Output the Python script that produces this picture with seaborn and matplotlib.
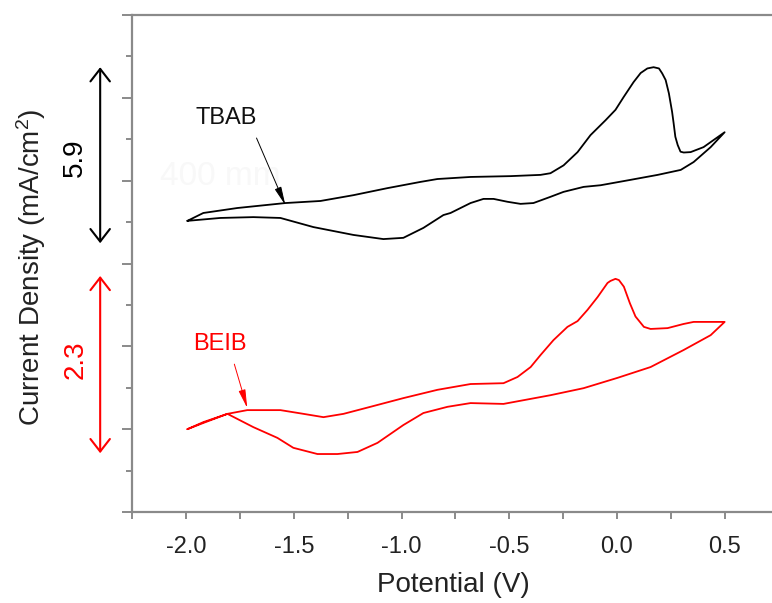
import numpy as np
import pandas as pd
import seaborn as sns
import matplotlib.pyplot as plt
from matplotlib.ticker import MultipleLocator, NullFormatter

# ─── CV data (potential V, stacked current, arb.) ───
tbab_e = [-1.995, -1.921, -1.763, -1.540, -1.377, -1.224, -1.066, -0.913, -0.834,
          -0.680, -0.494, -0.355, -0.309, -0.248, -0.183, -0.123, -0.053, -0.007,
          0.031, 0.077, 0.110, 0.141, 0.170, 0.195, 0.210, 0.226, 0.241, 0.256,
          0.263, 0.271, 0.282, 0.295, 0.310, 0.342, 0.402, 0.500,
          0.435, 0.356, 0.296, 0.189, 0.063, -0.076, -0.155, -0.248, -0.309,
          -0.388, -0.448, -0.508, -0.573, -0.620, -0.680, -0.773, -0.806, -0.899,
          -0.992, -1.085, -1.224, -1.410, -1.563, -1.689, -1.842, -1.995]
tbab_j = [7.03, 7.22, 7.34, 7.46, 7.51, 7.65, 7.82, 7.97, 8.04,
          8.09, 8.11, 8.14, 8.18, 8.37, 8.69, 9.10, 9.46, 9.71,
          10.02, 10.38, 10.60, 10.71, 10.74, 10.71, 10.59, 10.43, 10.11, 9.66,
          9.39, 9.06, 8.86, 8.70, 8.68, 8.69, 8.81, 9.17,
          8.81, 8.45, 8.26, 8.14, 8.02, 7.89, 7.85, 7.73, 7.61,
          7.46, 7.44, 7.49, 7.56, 7.56, 7.46, 7.22, 7.17, 6.86,
          6.62, 6.59, 6.69, 6.88, 7.10, 7.12, 7.10, 7.03]

beib_e = [-1.995, -1.921, -1.809, -1.717, -1.563, -1.456, -1.363, -1.270, -1.145,
          -0.992, -0.834, -0.680, -0.527, -0.462, -0.401, -0.355, -0.295, -0.230,
          -0.183, -0.137, -0.090, -0.044, -0.030, -0.007, 0.009, 0.032, 0.060,
          0.086, 0.125, 0.156, 0.235, 0.309, 0.356, 0.500,
          0.435, 0.309, 0.156, 0.003, -0.155, -0.309, -0.527, -0.680, -0.787,
          -0.899, -0.992, -1.112, -1.205, -1.298, -1.391, -1.503, -1.577, -1.689,
          -1.809, -1.921, -1.995]
beib_j = [2.00, 2.17, 2.37, 2.46, 2.46, 2.37, 2.29, 2.37, 2.54,
          2.75, 2.95, 3.09, 3.11, 3.26, 3.50, 3.79, 4.15, 4.47,
          4.61, 4.88, 5.19, 5.53, 5.58, 5.63, 5.60, 5.44, 5.04,
          4.72, 4.47, 4.42, 4.44, 4.54, 4.59, 4.59,
          4.27, 3.91, 3.50, 3.24, 2.99, 2.82, 2.61, 2.63, 2.54,
          2.39, 2.10, 1.67, 1.45, 1.40, 1.40, 1.55, 1.79, 2.05,
          2.37, 2.15, 2.00]

x_ticks = [-2.0, -1.5, -1.0, -0.5, 0.0, 0.5]
x_ticklabels = ["-2.0", "-1.5", "-1.0", "-0.5", "0.0", "0.5"]

tbab = pd.DataFrame({"E": tbab_e, "j": tbab_j})
beib = pd.DataFrame({"E": beib_e, "j": beib_j})

# ─── Style ──────────────────────────────────────────────────────────
sns.set_style("ticks")
plt.rcParams["font.family"] = ["Liberation Sans", "DejaVu Sans"]
plt.rcParams["mathtext.fontset"] = "custom"
plt.rcParams["mathtext.rm"] = "Liberation Sans"
plt.rcParams["mathtext.default"] = "regular"

grey = "#8a8a8a"
fig = plt.figure(figsize=(7.72, 6.03), dpi=100)
ax = fig.add_axes([0.1716, 0.1509, 0.8368, 0.8242])

sns.lineplot(data=tbab, x="E", y="j", sort=False, estimator=None,
             color="black", lw=1.3, ax=ax)
sns.lineplot(data=beib, x="E", y="j", sort=False, estimator=None,
             color="red", lw=1.3, ax=ax)

ax.set_xlim(-2.25, 0.75)
ax.set_ylim(0, 12)
ax.set_xticks(x_ticks)
ax.set_xticklabels(x_ticklabels)
ax.xaxis.set_minor_locator(MultipleLocator(0.25))
ax.yaxis.set_major_locator(MultipleLocator(2))
ax.yaxis.set_minor_locator(MultipleLocator(1))
ax.yaxis.set_major_formatter(NullFormatter())
ax.set_xlabel("")
ax.set_ylabel("")

for side in ["left", "bottom", "top"]:
    ax.spines[side].set_color(grey)
    ax.spines[side].set_linewidth(1.6)
ax.spines["right"].set_visible(False)

ax.tick_params(axis="x", which="both", length=5, width=1.4, color=grey,
               labelsize=17, pad=12, labelcolor="#222222")
ax.tick_params(axis="y", which="major", length=7.5, width=1.4, color=grey)
ax.tick_params(axis="y", which="minor", length=4, width=1.4, color=grey)

# axis labels
fig.text(0.5868, 0.030, "Potential (V)", ha="center", va="center",
         fontsize=20, color="#222222")
fig.text(0.040, 0.556, "Current Density (mA/cm$^{2}$)", rotation=90,
         ha="center", va="center", fontsize=20, color="#222222")

# scale bars
ax.annotate("", xy=(-2.40, 10.74), xytext=(-2.40, 6.49), annotation_clip=False,
            arrowprops=dict(arrowstyle="<->,head_length=0.45,head_width=0.35",
                            color="black", lw=1.5, mutation_scale=20,
                            shrinkA=0, shrinkB=0))
ax.annotate("", xy=(-2.40, 5.70), xytext=(-2.40, 1.42), annotation_clip=False,
            arrowprops=dict(arrowstyle="<->,head_length=0.45,head_width=0.35",
                            color="red", lw=1.5, mutation_scale=20,
                            shrinkA=0, shrinkB=0))
ax.text(-2.516, 8.55, "5.9", rotation=90, ha="center", va="center",
        fontsize=20, color="black", clip_on=False)
ax.text(-2.516, 3.67, "2.3", rotation=90, ha="center", va="center",
        fontsize=20, color="red", clip_on=False)

# faint leftover label in the original
ax.text(-1.842, 8.09, "400 mm", ha="center", va="center", fontsize=24,
        color="#f8f8f8", zorder=0)

# curve labels
ax.text(-1.814, 9.51, "TBAB", ha="center", va="center", fontsize=17,
        color="#111111")
ax.annotate("", xy=(-1.540, 7.41), xytext=(-1.674, 9.03),
            arrowprops=dict(arrowstyle="-|>,head_length=0.8,head_width=0.15",
                            color="black", lw=0.7, mutation_scale=14,
                            shrinkA=0, shrinkB=0))
ax.text(-1.842, 4.06, "BEIB", ha="center", va="center", fontsize=17,
        color="red")
ax.annotate("", xy=(-1.717, 2.51), xytext=(-1.777, 3.57),
            arrowprops=dict(arrowstyle="-|>,head_length=0.8,head_width=0.15",
                            color="red", lw=0.7, mutation_scale=14,
                            shrinkA=0, shrinkB=0))

fig.savefig("out.png", dpi=100)
